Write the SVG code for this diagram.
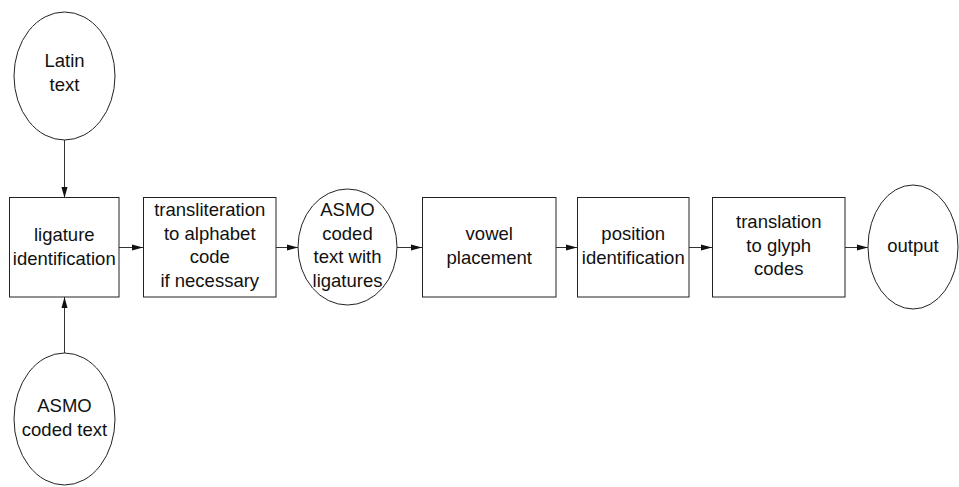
<svg xmlns="http://www.w3.org/2000/svg" width="959" height="487" viewBox="0 0 959 487">
<style>
.s{fill:#fff;stroke:#222;stroke-width:1}
.t{font-family:"Liberation Sans",Arial,sans-serif;font-size:18.5px;fill:#111;text-anchor:middle}
.c{stroke:#333;stroke-width:1;fill:none;marker-end:url(#a)}
</style>
<defs>
<marker id="a" markerUnits="userSpaceOnUse" markerWidth="12" markerHeight="8" refX="11" refY="4" orient="auto">
<path d="M0,1 L11,4 L0,7 Z" fill="#111"/>
</marker>
</defs>
<rect width="959" height="487" fill="#fff"/>
<g id="connectors">
<line class="c" x1="64.5" y1="140" x2="64.5" y2="198"/>
<line class="c" x1="64.5" y1="353" x2="64.5" y2="297"/>
<line class="c" x1="119" y1="247.5" x2="143" y2="247.5"/>
<line class="c" x1="276" y1="247.5" x2="298" y2="247.5"/>
<line class="c" x1="397" y1="247.5" x2="422" y2="247.5"/>
<line class="c" x1="556" y1="247.5" x2="577" y2="247.5"/>
<line class="c" x1="689" y1="247.5" x2="712" y2="247.5"/>
<line class="c" x1="845" y1="247.5" x2="868" y2="247.5"/>
</g>
<g id="latin">
<ellipse class="s" cx="64.5" cy="76" rx="50.5" ry="64"/>
<text class="t" x="64.5" y="67">Latin</text>
<text class="t" x="64.5" y="90.5">text</text>
</g>
<g id="asmo-in">
<ellipse class="s" cx="64.5" cy="419" rx="50.5" ry="66"/>
<text class="t" x="64.5" y="412">ASMO</text>
<text class="t" x="64.5" y="435.5">coded text</text>
</g>
<g id="ligature">
<rect class="s" x="9.5" y="197.5" width="109.5" height="99.5"/>
<text class="t" x="64.25" y="241">ligature</text>
<text class="t" x="64.25" y="264.5">identification</text>
</g>
<g id="translit">
<rect class="s" x="143.5" y="197.5" width="132.5" height="99.5"/>
<text class="t" x="209.75" y="216">transliteration</text>
<text class="t" x="209.75" y="239.5">to alphabet</text>
<text class="t" x="209.75" y="263">code</text>
<text class="t" x="209.75" y="286.5">if necessary</text>
</g>
<g id="asmo-lig">
<ellipse class="s" cx="347.5" cy="247" rx="49.5" ry="58"/>
<text class="t" x="347.5" y="216">ASMO</text>
<text class="t" x="347.5" y="239.5">coded</text>
<text class="t" x="347.5" y="263">text with</text>
<text class="t" x="347.5" y="286.5">ligatures</text>
</g>
<g id="vowel">
<rect class="s" x="422.5" y="197.5" width="133.5" height="99.5"/>
<text class="t" x="489.25" y="240">vowel</text>
<text class="t" x="489.25" y="263.5">placement</text>
</g>
<g id="position">
<rect class="s" x="577.5" y="197.5" width="111.5" height="99.5"/>
<text class="t" x="633.25" y="240">position</text>
<text class="t" x="633.25" y="263.5">identification</text>
</g>
<g id="translation">
<rect class="s" x="712.5" y="197.5" width="132.5" height="99.5"/>
<text class="t" x="778.75" y="228">translation</text>
<text class="t" x="778.75" y="251.5">to glyph</text>
<text class="t" x="778.75" y="275">codes</text>
</g>
<g id="output">
<ellipse class="s" cx="913" cy="247" rx="45" ry="62"/>
<text class="t" x="913" y="252">output</text>
</g>
</svg>
